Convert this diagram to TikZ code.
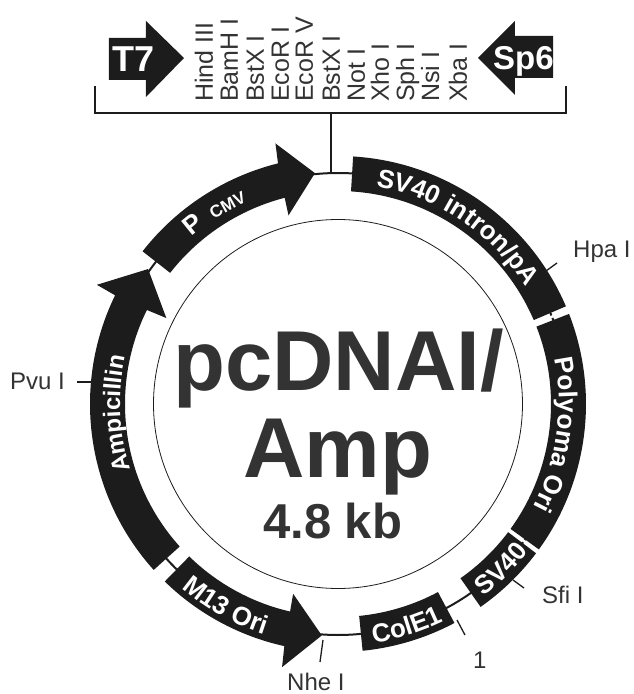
\documentclass[tikz,border=0pt]{standalone}
\usepackage{fontspec}
\setmainfont{Liberation Sans}
\usetikzlibrary{decorations.text}
\definecolor{inkblack}{HTML}{1C1C1C}
\definecolor{labelgrey}{HTML}{333333}
\newcommand{\bandfont}{\color{white}\fontsize{26}{26}\selectfont\bfseries}
\newcommand{\ampfont}{\color{white}\fontsize{24}{24}\selectfont\bfseries}
\newcommand{\cmvfont}{\color{white}\fontsize{17}{17}\selectfont\bfseries}
\newcommand{\bandarc}[2]{\fill[inkblack] (#1:248) arc[start angle=#1,end angle=#2,radius=248] -- (#2:213) arc[start angle=#2,end angle=#1,radius=213] -- cycle;}
\tikzset{
  sitelabel/.style={anchor=base west,inner sep=0pt,text=labelgrey,font=\fontsize{24}{24}\selectfont},
  enzymelabel/.style={sitelabel,rotate=90,font=\fontsize{25}{25}\selectfont},
  centerlabel/.style={anchor=base west,inner sep=0pt,text=inkblack!90,font=\bfseries\fontsize{85}{85}\selectfont},
  promoterlabel/.style={anchor=base west,inner sep=0pt,text=white,font=\bfseries\fontsize{36}{36}\selectfont},
  sitetick/.style={draw=inkblack,line width=1.3pt},
  ringline/.style={draw=inkblack,line width=2pt},
  gapline/.style={draw=white,line width=2.5pt},
}
\begin{document}
\begin{tikzpicture}[x=1pt,y=1pt]
\useasboundingbox (-338,-290) rectangle (296,404);
% backbone and inner circle
\draw[ringline] (0,0) circle[radius=231];
\draw[draw=inkblack,line width=0.8pt] (0,0) circle[radius=184.5];
\draw[gapline] (22.2:212)--(22.2:249);
\draw[gapline] (-36.4:212)--(-36.4:249);
% bands
\bandarc{86.5}{23.2}
\bandarc{21.3}{-35.9}
\bandarc{-37}{-54.9}
\bandarc{-62}{-84.3}
% arrows on the ring
\fill[inkblack] (142:248) arc[start angle=142,end angle=104,radius=248] -- (103.5:268) -- (95.7:232) -- (104.7:195) -- (104.5:213) arc[start angle=104.5,end angle=142,radius=213] -- cycle;
\fill[inkblack] (222:248) arc[start angle=222,end angle=154,radius=248] -- (153.7:269) -- (144.6:233) -- (153.4:192) -- (153.8:213) arc[start angle=153.8,end angle=222,radius=213] -- cycle;
\fill[inkblack] (225.7:248) arc[start angle=225.7,end angle=257.5,radius=248] -- (258:269) -- (266:232) -- (256.7:195) -- (257:213) arc[start angle=257,end angle=225.7,radius=213] -- cycle;
% band texts
\path[decorate,decoration={text along path,text align=center,text={|\bandfont|SV40 intron/pA}}] (83:221) arc[start angle=83,end angle=29,radius=221];
\path[decorate,decoration={text along path,text align=center,text={|\bandfont|Polyoma Ori}}] (16:221) arc[start angle=16,end angle=-32,radius=221];
\path[decorate,decoration={text along path,text align=center,text={|\ampfont|Ampicillin}}] (205:218) arc[start angle=205,end angle=160,radius=218];
\path[decorate,decoration={text along path,text align=center,text={|\bandfont|P}}] (135:222) arc[start angle=135,end angle=123,radius=222];
\path[decorate,decoration={text along path,text align=center,text={|\cmvfont|CMV}}] (127:222) arc[start angle=127,end angle=111,radius=222];
\path[decorate,decoration={text along path,text align=center,text={|\bandfont|M13 Ori}}] (222:242) arc[start angle=222,end angle=260,radius=242];
\path[decorate,decoration={text along path,text align=center,text={|\bandfont|ColE1}}] (-89.8:242) arc[start angle=-89.8,end angle=-55.8,radius=242];
\path[decorate,decoration={text along path,text align=center,text={|\bandfont|SV40}}] (-57.3:241) arc[start angle=-57.3,end angle=-33.3,radius=241];
% center
\node[centerlabel] (plasmid) at (-165,14) {pcDNAI/};
\node[centerlabel] (amp) at (-95,-73) {Amp};
\node[centerlabel,font=\bfseries\fontsize{49}{49}\selectfont] (size) at (-75,-134) {4.8 kb};
% sites on the ring
\draw[sitetick] (208,133)--(219,141);
\node[sitelabel] (hpa) at (235,147) {Hpa I};
\draw[sitetick] (-261,22)--(-246,22);
\node[sitelabel] (pvu) at (-328,15) {Pvu I};
\draw[sitetick] (175,-176)--(186,-184);
\node[sitelabel] (sfi) at (204,-199) {Sfi I};
\draw[sitetick] (119,-216)--(127,-231);
\node[sitelabel] (one) at (135,-264) {1};
\draw[sitetick] (-15,-236)--(-18,-258);
\node[sitelabel] (nhe) at (-51,-286) {Nhe I};
% polylinker
\coordinate (bracketL) at (-243,318);
\coordinate (bracketLc) at (-243,291);
\coordinate (bracketRc) at (228,291);
\coordinate (bracketR) at (228,318);
\coordinate (bracketM) at (-7,291);
\coordinate (ringtop) at (-7,231);
\draw[sitetick] (bracketL)--(bracketLc)--(bracketRc)--(bracketR);
\draw[sitetick] (bracketM)--(ringtop);
\node[enzymelabel] (hind) at (-125,302) {Hind III};
\node[enzymelabel] (bamh) at (-100,302) {BamH I};
\node[enzymelabel] (bstxa) at (-74,302) {BstX I};
\node[enzymelabel] (ecori) at (-49,302) {EcoR I};
\node[enzymelabel] (ecorv) at (-25,302) {EcoR V};
\node[enzymelabel] (bstxb) at (2,302) {BstX I};
\node[enzymelabel] (not) at (27,302) {Not I};
\node[enzymelabel] (xho) at (51,302) {Xho I};
\node[enzymelabel] (sph) at (76,302) {Sph I};
\node[enzymelabel] (nsi) at (101,302) {Nsi I};
\node[enzymelabel] (xba) at (129,302) {Xba I};
% promoters
\fill[inkblack] (-229,366)--(-192,366)--(-192,383)--(-154,346)--(-192,307)--(-192,324)--(-229,324)--cycle;
\node[promoterlabel] (tseven) at (-226,332) {T7};
\fill[inkblack] (215,368)--(177,368)--(177,383)--(140,346)--(177,309)--(177,326)--(215,326)--cycle;
\node[promoterlabel,font=\bfseries\fontsize{33}{33}\selectfont] (spsix) at (155,334) {Sp6};
\end{tikzpicture}
\end{document}
